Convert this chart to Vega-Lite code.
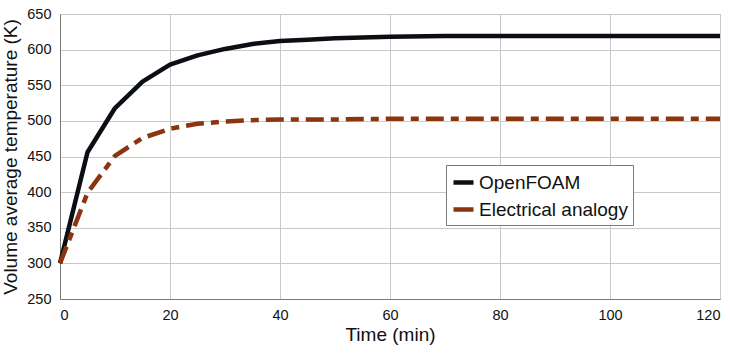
{
  "$schema": "https://vega.github.io/schema/vega-lite/v6.json",
  "autosize": {"type": "none"},
  "width": 660,
  "height": 285,
  "padding": {"left": 60, "top": 14, "right": 10, "bottom": 55},
  "background": "white",
  "config": {
    "view": {"stroke": "#7a7a7a", "strokeWidth": 1},
    "font": "Liberation Sans",
    "axis": {
      "labelFont": "Liberation Sans",
      "titleFont": "Liberation Sans",
      "labelFontSize": 14.5,
      "titleFontSize": 19,
      "labelColor": "#111",
      "titleColor": "#111",
      "titleFontWeight": "normal",
      "gridColor": "#c8c8c8",
      "gridOpacity": 1,
      "domainColor": "#7a7a7a",
      "ticks": false
    },
    "legend": {"symbolDash": []}
  },
  "data": {
    "values": [
      {"t": 0, "T": 300, "s": "OpenFOAM"},
      {"t": 5, "T": 456, "s": "OpenFOAM"},
      {"t": 10, "T": 518, "s": "OpenFOAM"},
      {"t": 15, "T": 555, "s": "OpenFOAM"},
      {"t": 20, "T": 579, "s": "OpenFOAM"},
      {"t": 25, "T": 592, "s": "OpenFOAM"},
      {"t": 30, "T": 601, "s": "OpenFOAM"},
      {"t": 35, "T": 608, "s": "OpenFOAM"},
      {"t": 40, "T": 612, "s": "OpenFOAM"},
      {"t": 45, "T": 614, "s": "OpenFOAM"},
      {"t": 50, "T": 616, "s": "OpenFOAM"},
      {"t": 55, "T": 617, "s": "OpenFOAM"},
      {"t": 60, "T": 618, "s": "OpenFOAM"},
      {"t": 70, "T": 619, "s": "OpenFOAM"},
      {"t": 80, "T": 619, "s": "OpenFOAM"},
      {"t": 90, "T": 619, "s": "OpenFOAM"},
      {"t": 100, "T": 619, "s": "OpenFOAM"},
      {"t": 110, "T": 619, "s": "OpenFOAM"},
      {"t": 120, "T": 619, "s": "OpenFOAM"},
      {"t": 0, "T": 300, "s": "Electrical analogy"},
      {"t": 5, "T": 399, "s": "Electrical analogy"},
      {"t": 10, "T": 451, "s": "Electrical analogy"},
      {"t": 15, "T": 476, "s": "Electrical analogy"},
      {"t": 20, "T": 489, "s": "Electrical analogy"},
      {"t": 25, "T": 496, "s": "Electrical analogy"},
      {"t": 30, "T": 499, "s": "Electrical analogy"},
      {"t": 35, "T": 501, "s": "Electrical analogy"},
      {"t": 40, "T": 502, "s": "Electrical analogy"},
      {"t": 50, "T": 502, "s": "Electrical analogy"},
      {"t": 60, "T": 503, "s": "Electrical analogy"},
      {"t": 80, "T": 503, "s": "Electrical analogy"},
      {"t": 100, "T": 503, "s": "Electrical analogy"},
      {"t": 120, "T": 503, "s": "Electrical analogy"}
    ]
  },
  "encoding": {
    "x": {
      "field": "t", "type": "quantitative",
      "scale": {"domain": [0, 120], "nice": false},
      "axis": {"values": [0, 20, 40, 60, 80, 100, 120], "title": "Time (min)", "titlePadding": 4, "labelPadding": 9}
    },
    "y": {
      "field": "T", "type": "quantitative",
      "scale": {"domain": [250, 650], "nice": false, "zero": false},
      "axis": {"values": [250, 300, 350, 400, 450, 500, 550, 600, 650], "title": "Volume average temperature (K)", "titlePadding": 6, "labelPadding": 9}
    }
  },
  "layer": [
    {
      "transform": [{"filter": "datum.s === 'OpenFOAM'"}],
      "mark": {"type": "line", "strokeWidth": 4.5, "strokeCap": "butt", "strokeJoin": "round"},
      "encoding": {
        "color": {
          "field": "s", "type": "nominal",
          "scale": {"domain": ["OpenFOAM", "Electrical analogy"], "range": ["#0b0f14", "#8a3410"]},
          "legend": {
            "title": null,
            "orient": "none",
            "legendX": 386,
            "legendY": 151,
            "fillColor": "white",
            "strokeColor": "#7a7a7a",
            "padding": 5,
            "symbolType": "stroke",
            "symbolStrokeWidth": 4.5,
            "symbolSize": 400,
            "labelFont": "Liberation Sans",
            "labelFontSize": 19,
            "labelColor": "#111",
            "rowPadding": 4,
            "labelOffset": 3,
            "encode": {"symbols": {"update": {"strokeDash": {"value": [100, 0]}, "strokeCap": {"value": "butt"}}}}
          }
        }
      }
    },
    {
      "transform": [{"filter": "datum.s === 'Electrical analogy'"}],
      "mark": {"type": "line", "strokeWidth": 4.5, "strokeCap": "butt", "strokeJoin": "round", "strokeDash": [18, 7, 8, 7], "color": "#8a3410"}
    }
  ]
}
